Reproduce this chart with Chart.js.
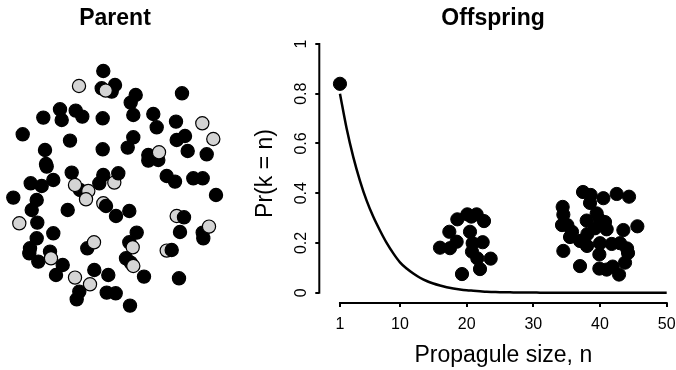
<!DOCTYPE html>
<html>
<head>
<meta charset="utf-8">
<title>Parent / Offspring</title>
<script src="https://cdn.jsdelivr.net/npm/chart.js@4.4.1/dist/chart.umd.min.js"></script>
<style>
  html, body { margin: 0; padding: 0; background: #fff; overflow: hidden; }
  #wrap { position: relative; width: 676px; height: 370px; overflow: hidden; }
  #parent { position: absolute; left: 0; top: 0; }
  #offspring { position: absolute; left: 230px; top: 0; }
</style>
</head>
<body>
<div id="wrap">
  <canvas id="parent" width="230" height="370"></canvas>
  <canvas id="offspring" width="460" height="370"></canvas>
</div>
<script>
// parent cells, position relative to the colony centre (1 = black, 0 = grey)
var parentX = [-11.7,-36,-13.3,0,-3.3,-9.3,20.7,15.7,18.3,67,-55,-53.3,-71.7,-39.3,-32.7,-12.3,38.3,41.7,61,87.3,
  -92.3,-45,-12.3,18.3,12.7,70,61.7,72.7,98.3,-70,33.3,33.3,43.3,44,91.7,-69,-68.3,-43.3,-0.7,3.3,
  -11.7,-15.7,51.7,60,78.3,87.7,-84.3,-73.3,-61.7,-35,-40,-26.7,-29,-101.7,-78.3,-83.3,101,-11.7,-9,-47.3,
  1,14.3,61.7,69,-95.7,-77.7,65,87.7,88.3,94,-61.7,21.7,14.3,17.7,-78.3,-85,-85.7,-76.7,-65,-64,
  -27.7,-21,51.7,56.7,11,15.7,18.3,-52.3,-59,-20.7,-6.7,-40,-25,29,64,-35.7,-38.3,-8.3,0.7,15];
var parentY = [117.3,102.3,100,103.3,96.7,97.7,93.3,85.7,73.3,95,79,68.3,70.7,77.7,71.7,70,74.3,61,66.7,65,
  54,47.7,39,51,40.7,52.3,48.3,37.3,49.3,38.3,33.3,27.7,28.3,36,34,24.3,21.7,15.7,5.7,15,
  13.3,5,12.3,6.7,10,10,5,2.3,8.3,-1.7,3.3,-2.7,-11,-9.3,-11.7,-21.7,-6.7,-15,-17.7,-21.7,
  -27.7,-22.7,-27.7,-29,-35,-34.3,-43.7,-44.3,-50,-38.3,-45,-44.3,-54,-59,-50,-60,-65,-73.3,-63.3,-70,
  -60,-54,-62.3,-61.7,-70,-74.3,-77.7,-76.7,-86.7,-81.7,-86.7,-89.3,-96,-88.3,-90,-103.3,-111,-104.3,-105,-117.3];
var parentKind = [1,0,1,1,1,0,1,1,1,1,1,1,1,1,1,1,1,1,1,0,
  1,1,1,1,1,1,1,1,0,1,1,1,1,0,1,1,1,1,0,1,
  1,1,1,1,1,1,1,1,1,1,0,0,0,1,1,1,1,0,1,1,
  1,1,0,1,0,1,1,1,1,0,1,1,1,0,1,1,1,1,1,0,
  1,0,0,1,1,1,0,1,1,1,1,0,0,1,1,1,1,1,1,1];

// offspring: Pr(k = n) curve
var curveN = [1,2,3,4,5,6,7,8,9,10,11,12,13,14,15,16,17,18,19,20,21,22,23,24,25,
  26,27,28,29,30,31,32,33,34,35,36,37,38,39,40,41,42,43,44,45,46,47,48,49,50];
var curveP = [0.80,0.66,0.545,0.45,0.37,0.305,0.25,0.2,0.158,0.122,0.097,0.077,0.06,0.047,0.037,0.029,0.022,0.017,0.013,0.01,
  0.008,0.006,0.004,0.003,0.002,0.002,0.001,0.001,0.001,0.001,0,0,0,0,0,0,0,0,0,0,0,0,0,0,0,0,0,0,0,0];
var singleN = [1];
var singleP = [0.84];
var offN = [16.0,17.4,17.5,18.5,18.6,20.1,21.5,22.6,20.5,20.9,22.4,20.8,21.6,23.6,22.0,19.3,20.7,
  37.45,38.6,38.5,40.5,42.5,44.35,34.4,34.5,34.3,35.1,35.8,35.5,38.0,39.5,40.0,40.75,41.0,39.25,38.1,37.0,
  38.05,40.0,41.75,43.0,43.5,45.6,34.5,39.9,37.0,39.9,41.0,41.9,42.85,43.75,44.2,44.05];
var offP = [0.181,0.245,0.179,0.205,0.295,0.315,0.315,0.288,0.245,0.199,0.203,0.165,0.138,0.137,0.095,0.075,0.306,
  0.405,0.393,0.361,0.380,0.397,0.386,0.345,0.314,0.272,0.272,0.245,0.224,0.290,0.319,0.292,0.284,0.255,0.259,0.236,0.208,
  0.188,0.199,0.196,0.199,0.252,0.267,0.168,0.154,0.107,0.097,0.093,0.105,0.073,0.121,0.160,0.178];

var xTicks = [1,10,20,30,40,50];
var yTicks = [0,0.2,0.4,0.6,0.8,1];

var FONT = '"Liberation Sans", Arial, sans-serif';
Chart.defaults.font.family = FONT;
Chart.defaults.color = '#000';

function pts(xs, ys) {
  return xs.map(function (v, i) { return {x: v, y: ys[i]}; });
}

function titleOpts(txt) {
  return {
    display: true,
    text: txt,
    color: '#000',
    fullSize: false,
    font: {size: 23, weight: 'bold', family: FONT},
    padding: {top: 4.5, bottom: 11.9}
  };
}

// left: parent colony
new Chart(document.getElementById('parent'), {
  type: 'scatter',
  data: {
    datasets: [{
      data: pts(parentX, parentY),
      backgroundColor: parentKind.map(function (k) { return k ? '#000' : '#d4d4d4'; }),
      borderColor: '#000',
      borderWidth: 1.2,
      pointRadius: 6.6,
      clip: false
    }]
  },
  options: {
    responsive: false,
    animation: false,
    layout: {padding: 0, autoPadding: false},
    plugins: {legend: {display: false}, tooltip: {enabled: false}, title: titleOpts('Parent')},
    scales: {
      x: {type: 'linear', display: false, min: -115, max: 115},
      y: {type: 'linear', display: false, min: -181.7, max: 144.3}
    }
  }
});

// axis lines only over the tick range, rotated y labels, x title
var axesPlugin = {
  id: 'axesPlugin',
  afterDraw: function (chart) {
    var ctx = chart.ctx, xs = chart.scales.x, ys = chart.scales.y, a = chart.chartArea;
    ctx.save();
    ctx.strokeStyle = '#000';
    ctx.lineWidth = 2;
    ctx.beginPath();
    ctx.moveTo(xs.getPixelForValue(xTicks[0]) - 1, a.bottom);
    ctx.lineTo(xs.getPixelForValue(xTicks[xTicks.length - 1]) + 1, a.bottom);
    ctx.moveTo(a.left, ys.getPixelForValue(yTicks[0]) + 1);
    ctx.lineTo(a.left, ys.getPixelForValue(yTicks[yTicks.length - 1]) - 1);
    ctx.stroke();

    ctx.fillStyle = '#000';
    ctx.font = '16px ' + FONT;
    ctx.textAlign = 'center';
    ctx.textBaseline = 'middle';
    yTicks.forEach(function (v) {
      ctx.save();
      ctx.translate(a.left - 18, ys.getPixelForValue(v));
      ctx.rotate(-Math.PI / 2);
      ctx.fillText(String(v), 0, 0);
      ctx.restore();
    });

    ctx.font = '23px ' + FONT;
    ctx.textBaseline = 'alphabetic';
    var cx = (xs.getPixelForValue(xTicks[0]) + xs.getPixelForValue(xTicks[xTicks.length - 1])) / 2;
    ctx.fillText('Propagule size, n', cx, 362);
    ctx.restore();
  }
};

// right: offspring distribution
new Chart(document.getElementById('offspring'), {
  type: 'scatter',
  data: {
    datasets: [{
      data: pts(curveN, curveP),
      showLine: true,
      borderColor: '#000',
      borderWidth: 2.5,
      pointRadius: 0,
      cubicInterpolationMode: 'monotone',
      clip: false
    }, {
      data: pts(singleN, singleP),
      backgroundColor: '#000',
      borderColor: '#000',
      borderWidth: 1,
      pointRadius: 6.6,
      clip: false
    }, {
      data: pts(offN, offP),
      backgroundColor: '#000',
      borderColor: '#000',
      borderWidth: 1,
      pointRadius: 6.6,
      clip: false
    }]
  },
  options: {
    responsive: false,
    animation: false,
    layout: {padding: {left: 0, right: 23.3, top: 0, bottom: 0}, autoPadding: false},
    plugins: {legend: {display: false}, tooltip: {enabled: false}, title: titleOpts('Offspring')},
    scales: {
      x: {
        type: 'linear',
        min: -2.1,
        max: 50,
        afterBuildTicks: function (s) { s.ticks = xTicks.map(function (v) { return {value: v}; }); },
        afterFit: function (s) { s.height = 67; },
        ticks: {autoSkip: false, maxRotation: 0, padding: 8, font: {size: 16}, color: '#000'},
        grid: {drawOnChartArea: false, drawTicks: true, tickLength: 4, lineWidth: 2, color: '#000'},
        border: {display: false}
      },
      y: {
        type: 'linear',
        min: -0.0414,
        max: 1,
        afterBuildTicks: function (s) { s.ticks = yTicks.map(function (v) { return {value: v}; }); },
        afterFit: function (s) { s.width = 89.3; },
        ticks: {display: false},
        grid: {drawOnChartArea: false, drawTicks: true, tickLength: 4, lineWidth: 2, color: '#000'},
        border: {display: false},
        title: {display: true, text: 'Pr(k = n)', font: {size: 23}, color: '#000', padding: {top: 22, bottom: 0}}
      }
    }
  },
  plugins: [axesPlugin]
});
</script>
</body>
</html>
